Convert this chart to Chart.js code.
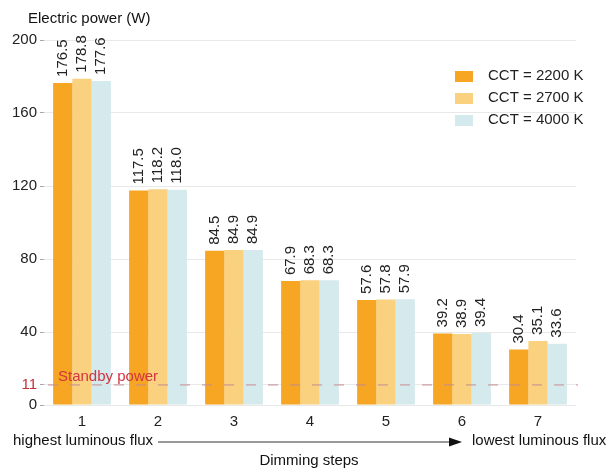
<!DOCTYPE html>
<html>
<head>
<meta charset="utf-8">
<script src="https://cdn.jsdelivr.net/npm/chart.js@4"></script>
<style>
  html, body { margin: 0; padding: 0; background: #fff; }
  #wrap { width: 606px; height: 470px; }
</style>
</head>
<body>
<div id="wrap"><canvas id="powerChart"></canvas></div>
<script>
// data
const steps = ['1', '2', '3', '4', '5', '6', '7'];
const cct2200 = [176.5, 117.5, 84.5, 67.9, 57.6, 39.2, 30.4];
const cct2700 = [178.8, 118.2, 84.9, 68.3, 57.8, 38.9, 35.1];
const cct4000 = [177.6, 118.0, 84.9, 68.3, 57.9, 39.4, 33.6];
const seriesNames = ['CCT = 2200 K', 'CCT = 2700 K', 'CCT = 4000 K'];
const yTicks = [0, 11, 40, 80, 120, 160, 200];
const standby = 11;

const colors = ['#f6a623', '#f9d17f', '#d5eaed'];
const fontFam = '"Liberation Sans", Arial, sans-serif';

// value labels, rotated, above each bar
const barLabels = {
  id: 'barLabels',
  afterDatasetsDraw(chart) {
    const c = chart.ctx;
    c.save();
    c.fillStyle = '#222';
    c.font = '15px ' + fontFam;
    c.textAlign = 'left';
    c.textBaseline = 'middle';
    chart.data.datasets.forEach((ds, i) => {
      chart.getDatasetMeta(i).data.forEach((bar, j) => {
        c.save();
        c.translate(bar.x, bar.y - 6);
        c.rotate(-Math.PI / 2);
        c.fillText(ds.data[j].toFixed(1), 0, 0);
        c.restore();
      });
    });
    c.restore();
  }
};

// standby line, legend, axis notes
const extras = {
  id: 'extras',
  afterDraw(chart) {
    const c = chart.ctx;
    const area = chart.chartArea;
    const y = chart.scales.y.getPixelForValue(standby);
    c.save();
    c.strokeStyle = '#c48c90';
    c.lineWidth = 1;
    c.setLineDash([10, 12]);
    c.beginPath();
    c.moveTo(area.left + 4, y);
    c.lineTo(area.right + 2, y);
    c.stroke();
    c.setLineDash([]);
    c.fillStyle = '#d2343f';
    c.font = '15px ' + fontFam;
    c.textBaseline = 'bottom';
    c.fillText('Standby power', 58, y - 1);

    // legend
    c.textBaseline = 'middle';
    seriesNames.forEach((n, i) => {
      const ly = 76 + i * 22;
      c.fillStyle = colors[i];
      c.fillRect(455, ly - 5, 18, 11);
      c.fillStyle = '#222';
      c.fillText(n, 488, ly);
    });

    // y title
    c.fillStyle = '#111';
    c.fillText('Electric power (W)', 28, 19);

    // arrow note
    c.fillText('highest luminous flux', 13, 441);
    c.fillText('lowest luminous flux', 472, 441);
    c.strokeStyle = '#333';
    c.beginPath();
    c.moveTo(158, 442);
    c.lineTo(455, 442);
    c.stroke();
    c.fillStyle = '#111';
    c.beginPath();
    c.moveTo(462, 442);
    c.lineTo(449, 437.5);
    c.lineTo(449, 446.5);
    c.closePath();
    c.fill();

    c.textAlign = 'center';
    c.fillText('Dimming steps', 309, 461);
    c.restore();
  }
};

const ctx = document.getElementById('powerChart').getContext('2d');
new Chart(ctx, {
  type: 'bar',
  data: {
    labels: steps,
    datasets: [
      { label: seriesNames[0], data: cct2200, backgroundColor: colors[0] },
      { label: seriesNames[1], data: cct2700, backgroundColor: colors[1] },
      { label: seriesNames[2], data: cct4000, backgroundColor: colors[2] }
    ]
  },
  options: {
    responsive: true,
    maintainAspectRatio: false,
    animation: false,
    layout: { padding: { top: 40, right: 30, left: 0, bottom: 0 } },
    plugins: { legend: { display: false }, tooltip: { enabled: false } },
    datasets: { bar: { categoryPercentage: 0.76, barPercentage: 1.0 } },
    scales: {
      x: {
        grid: { display: false, drawTicks: false },
        border: { display: false },
        ticks: { color: '#222', font: { size: 15, family: fontFam }, padding: 8 },
        afterFit(s) { s.height = 65; }
      },
      y: {
        min: 0,
        max: 200,
        afterBuildTicks(s) { s.ticks = yTicks.map(v => ({ value: v })); },
        grid: { color: '#e8e8e8', tickLength: 4, tickColor: '#aaa' },
        border: { display: false },
        ticks: {
          font: { size: 15, family: fontFam },
          color: (c) => c.tick && c.tick.value === standby ? '#c2303a' : '#222',
          padding: 3
        },
        afterFit(s) { s.width = 44; }
      }
    }
  },
  plugins: [barLabels, extras]
});
</script>
</body>
</html>
